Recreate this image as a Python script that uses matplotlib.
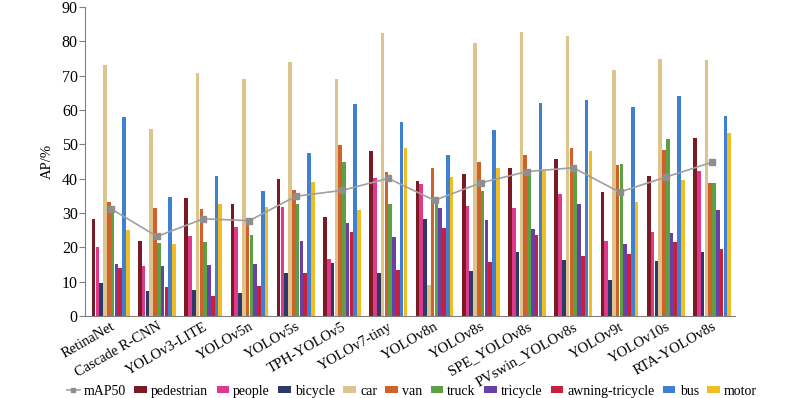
import matplotlib
matplotlib.use("Agg")
import matplotlib.pyplot as plt
import matplotlib.transforms as mtransforms
import numpy as np

plt.rcParams['font.family'] = ['Liberation Serif', 'DejaVu Serif']

models = ["RetinaNet", "Cascade R-CNN", "YOLOv3-LITE", "YOLOv5n", "YOLOv5s", "TPH-YOLOv5",
          "YOLOv7-tiny", "YOLOv8n", "YOLOv8s", "SPE_YOLOv8s", "PVswin_YOLOv8s", "YOLOv9t",
          "YOLOv10s", "RTA-YOLOv8s"]

pedestrian = [28.3, 22.0, 34.4, 32.5, 39.8, 28.8, 48.1, 39.3, 41.5, 43.0, 45.7, 36.0, 40.9, 52.0]
people     = [20.0, 14.5, 23.3, 25.9, 31.9, 16.5, 40.1, 38.5, 32.0, 31.5, 35.6, 21.8, 24.4, 42.3]
bicycle    = [9.5, 7.3, 7.6, 6.6, 12.5, 15.5, 12.6, 28.3, 13.2, 18.6, 16.2, 10.5, 15.9, 18.7]
car        = [73.1, 54.6, 70.7, 69.0, 73.9, 69.0, 82.4, 9.1, 79.5, 82.7, 81.6, 71.7, 74.8, 74.6]
van        = [33.2, 31.4, 31.1, 27.8, 36.6, 49.8, 42.1, 43.1, 44.9, 46.8, 49.1, 44.0, 48.3, 38.8]
truck      = [31.3, 21.3, 21.7, 23.5, 32.7, 44.9, 32.7, 33.7, 36.4, 41.7, 42.2, 44.4, 51.7, 38.8]
tricycle   = [15.2, 14.5, 15.0, 15.2, 21.9, 27.1, 23.1, 31.6, 28.1, 25.4, 32.5, 20.9, 24.3, 31.0]
awning     = [14.0, 8.4, 5.9, 8.7, 12.6, 24.4, 13.4, 25.7, 15.7, 23.7, 17.4, 18.1, 21.6, 19.6]
bus        = [58.0, 34.7, 40.8, 36.3, 47.4, 61.7, 56.5, 47.0, 54.2, 62.2, 62.9, 60.8, 64.1, 58.4]
motor      = [25.1, 21.0, 32.5, 31.9, 39.0, 30.8, 49.1, 40.5, 43.2, 42.3, 48.1, 33.1, 39.5, 53.2]
map50      = [31.3, 23.2, 28.3, 27.8, 34.9, 36.6, 40.1, 33.7, 38.8, 42.1, 43.2, 36.1, 40.5, 44.8]

class_names = ["pedestrian", "people", "bicycle", "car", "van", "truck", "tricycle",
               "awning-tricycle", "bus", "motor"]
series = [pedestrian, people, bicycle, car, van, truck, tricycle, awning, bus, motor]
colors = ["#7A1A22", "#E0388A", "#2C3A6B", "#DCC48C", "#D2602A", "#5AA146", "#6A3FA6",
          "#C81F3A", "#3F80D3", "#F2BD20"]

fig = plt.figure(figsize=(8, 3.98), dpi=100)
ax = fig.add_axes([0.106, 0.206, 0.813, 0.776])

x = np.arange(len(models))
n = len(series)
w = 0.082
for i, (vals, c, name) in enumerate(zip(series, colors, class_names)):
    ax.bar(x + (i - (n - 1) / 2) * w, vals, width=w * 0.95, color=c, label=name, zorder=2)

ax.plot(x, map50, color="#A0A0A0", marker="s", markersize=4, linewidth=1.2,
        markerfacecolor="#8E8E8E", markeredgecolor="#8E8E8E", label="mAP50", zorder=3)

ax.set_xlim(-0.56, 13.5)
ax.set_ylim(0, 90)
ax.set_yticks(range(0, 91, 10))
ax.set_xticks(x)
ax.set_xticklabels(models, rotation=30, ha="right", rotation_mode="anchor", fontsize=10.5)
offset = mtransforms.ScaledTranslation(0.05, 0, fig.dpi_scale_trans)
for lab in ax.get_xticklabels():
    lab.set_transform(lab.get_transform() + offset)
ax.tick_params(axis="y", labelsize=11.5, length=4, width=0.8, color="#808080", pad=1)
ax.tick_params(axis="x", length=0, pad=3)
for s in ["top", "right"]:
    ax.spines[s].set_visible(False)
ax.spines["left"].set_color("#808080")
ax.spines["bottom"].set_color("#808080")
ax.set_ylabel("AP/%", fontsize=10.5, labelpad=6)

handles, labels = ax.get_legend_handles_labels()
fig.legend(handles, labels, loc="lower center", bbox_to_anchor=(0.515, -0.02), ncol=11,
           frameon=False, fontsize=10, handlelength=0.9, handleheight=0.35,
           handletextpad=0.3, columnspacing=0.6, borderaxespad=0.2, markerscale=0.8)

fig.savefig("out.png", dpi=100)
